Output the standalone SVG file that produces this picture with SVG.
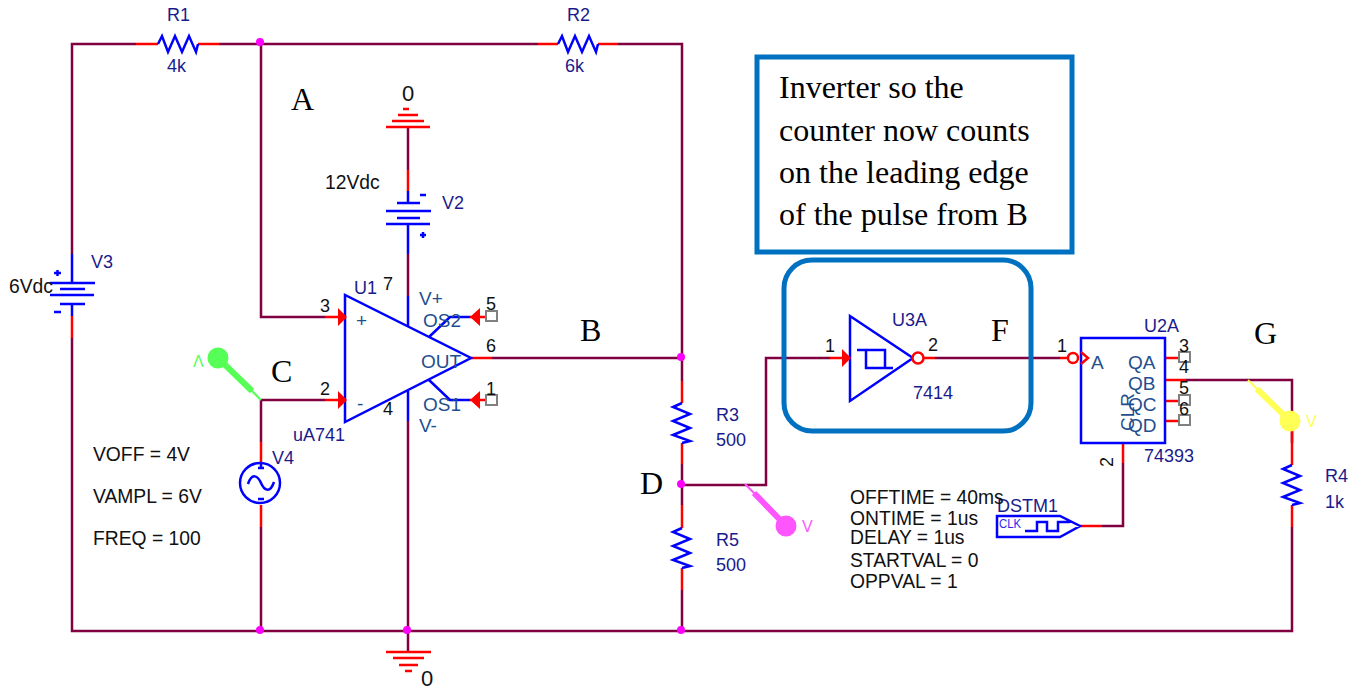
<svg xmlns="http://www.w3.org/2000/svg" width="1362" height="690" viewBox="0 0 1362 690">
<style>
text{font-family:"Liberation Sans",Arial,sans-serif;font-size:18px;fill:#111}
.w{fill:none;stroke:#800040;stroke-width:2.500}
.r{fill:none;stroke:#ff0000;stroke-width:2.500}
.b{fill:none;stroke:#0000ff;stroke-width:2.500}
.rf{fill:#ff0000}
.j{fill:#ff00ff}
.sq{fill:#fff;stroke:#808080;stroke-width:2}
.n{fill:#1a1a8c}
.p{fill:#1f4f8f;font-size:19px}
.v{font-size:19.300px}
.big{font-family:"Liberation Serif","Times New Roman",serif;font-size:32px;fill:#000}
.note{font-family:"Liberation Serif","Times New Roman",serif;font-size:32px;fill:#000}
.pl{font-size:16px}
</style>
<defs>
<path id="zigH" d="M0 0L4 -8L10 8L17 -8L24 8L31 -8L38 8L40 0" class="b"/>
<path id="zigV" d="M0 0L-9 4L8 11L-9 18L8 25L-9 32L8 38L0 40" class="b"/>
</defs>
<g id="connectors">
<path class="w" d="M136 44H72V254M72 338V631H1292V527M219 44H538M618 44H682V381M682 358H492M261 44V317H325M261 400H325M261 400V442M261 527V631M408 127V170M408 254V296M408 421V652M682 464V505M682 590V631M682 485H766V358H830M935 358H1060M1186 380H1292V443M1123 463V526H1102"/>
<path class="r" d="M136 44H158M198 44H219M538 44H558M598 44H618M72 316V338M408 170V191M325 317H340M325 400H340M471 358H492M261 442V463M261 505V527M682 381V403M682 443V464M682 505V528M682 568V590M830 358H845M924 358H935M1060 358H1068M470 317H486M470 400H486M1165 358H1179M1165 380H1186M1165 401H1179M1165 421H1179M1123 443V463M1080 526H1102M1292 421V465M1292 505V527"/>
</g>
<g id="R1"><use href="#zigH" x="158" y="44"/><text class="n" x="167" y="21">R1</text><text class="n" x="167" y="72">4k</text></g>
<g id="R2"><use href="#zigH" x="558" y="44"/><text class="n" x="567" y="21">R2</text><text class="n" x="565" y="72">6k</text></g>
<g id="V3"><path class="b" d="M72 254V283M50 283H95M60 289H85M50 295H94M60 304H85M72 304V316"/><path class="b" d="M54 273H61M57.500 270V276M54 312H61"/><text class="n" x="91" y="268">V3</text><text class="v" x="9" y="293">6Vdc</text></g>
<g id="V2"><path class="r" d="M386 127H430M392 121H424M398 115H418M403 109H409"/><text x="402" y="101" style="font-size:22px">0</text><path class="b" d="M408 191V203M397 203H420M386 211H431M397 218H420M386 224H430M408 224V254"/><path class="b" d="M420 195H426M420 235H426M423 232V238"/><text class="n" x="442" y="209">V2</text><text class="v" x="325" y="189">12Vdc</text></g>
<g id="U1">
<path class="b" d="M345 295V422L471 358ZM408 296V326M408 390V421M429 337L450 317H470M429 380L450 400H470"/>
<path class="rf" d="M338 308L347 317L338 326ZM338 391L347 400L338 409ZM480 308L470 317L480 326ZM480 391L470 400L480 409Z"/>
<rect class="sq" x="486" y="311" width="11" height="10"/><rect class="sq" x="486" y="395" width="11" height="10"/>
<text class="n" x="354" y="294">U1</text><text x="383" y="290">7</text><text x="320" y="312">3</text><text x="320" y="395">2</text><text x="383" y="415">4</text><text x="486" y="310">5</text><text x="486" y="352">6</text><text x="486" y="395">1</text>
<text class="p" x="356" y="327">+</text><text class="p" x="357" y="410">-</text><text class="p" x="419" y="305">V+</text><text class="p" x="423" y="327">OS2</text><text class="p" x="421" y="368">OUT</text><text class="p" x="423" y="411">OS1</text><text class="p" x="419" y="432">V-</text><text class="n" x="293" y="441">uA741</text>
</g>
<g id="V4"><circle class="b" cx="260" cy="483" r="20"/><path class="b" d="M248 484C252 472 258 476 261 483C264 490 270 494 274 482M261 463V469M258 468H264M258 499H264"/><text class="n" x="272" y="464">V4</text><text class="v" x="93" y="461">VOFF = 4V</text><text class="v" x="93" y="503">VAMPL = 6V</text><text class="v" x="93" y="545">FREQ = 100</text></g>
<g id="GND"><path class="r" d="M386 652H431M393 658H424M399 665H418M405 671H412"/><text x="421" y="686" style="font-size:22px">0</text></g>
<g id="R3"><use href="#zigV" x="682" y="403"/><text class="n" x="716" y="421">R3</text><text class="n" x="716" y="446">500</text></g>
<g id="R5"><use href="#zigV" x="682" y="528"/><text class="n" x="716" y="546">R5</text><text class="n" x="716" y="571">500</text></g>
<g id="R4"><use href="#zigV" x="1292" y="465"/><text class="n" x="1325" y="482">R4</text><text class="n" x="1325" y="508">1k</text></g>
<g id="U3A"><path class="b" d="M850 316V401L913 358ZM857 350H885V368H893M866 350V368H885"/><path class="rf" d="M842 349L851 358L842 367Z"/><circle cx="918" cy="358" r="5.500" fill="#fff" stroke="#ff0000" stroke-width="2.500"/><text class="n" x="892" y="326">U3A</text><text class="n" x="913" y="399">7414</text><text x="825" y="352">1</text><text x="928" y="351">2</text></g>
<g id="U2A"><rect class="b" x="1081" y="338" width="84" height="105"/><circle cx="1073" cy="358" r="5" fill="#fff" stroke="#ff0000" stroke-width="2.500"/><path class="r" d="M1081 352L1088 358L1081 364"/>
<rect class="sq" x="1179" y="352" width="11" height="10"/><rect class="sq" x="1179" y="395" width="11" height="10"/><rect class="sq" x="1179" y="415" width="11" height="10"/>
<text x="1057" y="352">1</text><text x="1179" y="352">3</text><text x="1179" y="373">4</text><text x="1179" y="394">5</text><text x="1179" y="415">6</text>
<text class="p" x="1091" y="369">A</text><text class="p" x="1128" y="369">QA</text><text class="p" x="1128" y="390">QB</text><text class="p" x="1128" y="411">QC</text><text class="p" x="1128" y="432">QD</text>
<text class="p" transform="translate(1134 431) rotate(-90)">CLR</text><text transform="translate(1113 467) rotate(-90)">2</text>
<text class="n" x="1144" y="332">U2A</text><text class="n" x="1144" y="462">74393</text></g>
<g id="DSTM1"><path class="b" d="M997 516H1060L1080 526L1060 537H997ZM1025 531H1037V522H1047V531H1058V522H1070"/><text x="999" y="528" style="font-size:12px;fill:#2a2aee" textLength="22" lengthAdjust="spacingAndGlyphs">CLK</text><text class="n" x="997" y="512">DSTM1</text>
<text class="v" x="850" y="504">OFFTIME = 40ms</text><text class="v" x="850" y="525">ONTIME = 1us</text><text class="v" x="850" y="544">DELAY = 1us</text><text class="v" x="850" y="567">STARTVAL = 0</text><text class="v" x="850" y="588">OPPVAL = 1</text></g>
<g id="probe-C"><path d="M261 400L250 389" stroke="#55ff55" stroke-width="2" fill="none"/><path d="M252 391L218 358" stroke="#55ff55" stroke-width="6" fill="none"/><circle cx="218" cy="358" r="10.500" fill="#55ff55"/><text class="pl" x="193" y="367" style="fill:#55ff55">Λ</text></g>
<g id="probe-D"><path d="M745 484L756 495" stroke="#ff55ff" stroke-width="2" fill="none"/><path d="M754 493L786 526" stroke="#ff55ff" stroke-width="6" fill="none"/><circle cx="786" cy="526" r="10.500" fill="#ff55ff"/><text class="pl" x="802" y="532" style="fill:#ff55ff">V</text></g>
<g id="probe-G"><path d="M1248 380L1259 391" stroke="#ffff55" stroke-width="2" fill="none"/><path d="M1257 389L1290 421" stroke="#ffff55" stroke-width="6" fill="none"/><circle cx="1290" cy="421" r="10.500" fill="#ffff55"/><text class="pl" x="1306" y="427" style="fill:#ffff55">V</text></g>
<g id="junctions"><circle class="j" cx="260" cy="42" r="4"/><circle class="j" cx="260" cy="630" r="4"/><circle class="j" cx="407" cy="630" r="4"/><circle class="j" cx="681" cy="357" r="4"/><circle class="j" cx="681" cy="484" r="4"/><circle class="j" cx="681" cy="630" r="4"/></g>
<g id="note"><rect x="757" y="57" width="315" height="195" fill="none" stroke="#0070c0" stroke-width="5"/><text class="note" x="779" y="98">Inverter so the</text><text class="note" x="779" y="141">counter now counts</text><text class="note" x="779" y="183">on the leading edge</text><text class="note" x="779" y="225">of the pulse from B</text></g>
<g id="inverter-box"><rect x="784" y="260" width="247" height="171" rx="28" fill="none" stroke="#0070c0" stroke-width="5"/></g>
<g id="labels"><text class="big" x="291" y="110">A</text><text class="big" x="580" y="341">B</text><text class="big" x="271" y="382">C</text><text class="big" x="640" y="494">D</text><text class="big" x="991" y="341">F</text><text class="big" x="1254" y="344">G</text></g>
</svg>
